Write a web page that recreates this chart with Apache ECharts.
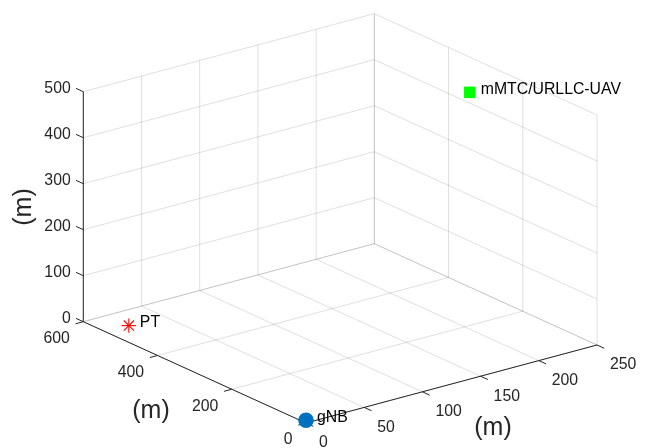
<!DOCTYPE html>
<html>
<head>
<meta charset="utf-8">
<script src="https://cdn.jsdelivr.net/npm/echarts@6/dist/echarts.min.js"></script>
<style>
  html, body { margin: 0; padding: 0; background: #ffffff; }
  #chart { width: 651px; height: 448px; }
</style>
</head>
<body>
<div id="chart"></div>
<script>
// Axis ticks (metres)
const xTicks = [0, 50, 100, 150, 200, 250];
const yTicks = [0, 200, 400, 600];
const zTicks = [0, 100, 200, 300, 400, 500];
const axisTitles = ['(m)', '(m)', '(m)'];

// Node positions (metres)
const siteNames = ['gNB', 'PT', 'mMTC/URLLC-UAV'];
const siteX = [0, 20, 230];
const siteY = [0, 540, 280];
const siteZ = [6, 0, 460];

// Axis limits
const X_MAX = 250, Y_MAX = 600, Z_MAX = 500;

// Orthographic 3-D view: screen point of the origin and screen vector of each full axis
const ORIGIN = [306, 423];
const EX = [291, -78];
const EY = [-222.7, -101.3];
const EZ = [0, -230];

const FONT = '"Liberation Sans", Arial, Helvetica, sans-serif';
const INK = '#262626';
const GRID = 'rgba(38,38,38,0.15)';

function project(x, y, z) {
  const a = x / X_MAX, b = y / Y_MAX, c = z / Z_MAX;
  return [
    ORIGIN[0] + a * EX[0] + b * EY[0] + c * EZ[0],
    ORIGIN[1] + a * EX[1] + b * EY[1] + c * EZ[1]
  ];
}
function unit(v) {
  const l = Math.hypot(v[0], v[1]);
  return [v[0] / l, v[1] / l];
}

// Grid lines on the floor (z = 0) and the two back walls (y = Y_MAX, x = X_MAX)
const gridSegments = [];
xTicks.forEach(x => {
  gridSegments.push([x, 0, 0, x, Y_MAX, 0]);
  gridSegments.push([x, Y_MAX, 0, x, Y_MAX, Z_MAX]);
});
yTicks.forEach(y => {
  gridSegments.push([0, y, 0, X_MAX, y, 0]);
  gridSegments.push([X_MAX, y, 0, X_MAX, y, Z_MAX]);
});
zTicks.forEach(z => {
  gridSegments.push([0, Y_MAX, z, X_MAX, Y_MAX, z]);
  gridSegments.push([X_MAX, 0, z, X_MAX, Y_MAX, z]);
});

// Axis lines
const axisSegments = [
  [0, 0, 0, X_MAX, 0, 0],
  [0, 0, 0, 0, Y_MAX, 0],
  [0, Y_MAX, 0, 0, Y_MAX, Z_MAX]
];

// Ticks: [axis index, value]
const tickItems = []
  .concat(xTicks.map(v => [0, v]))
  .concat(yTicks.map(v => [1, v]))
  .concat(zTicks.map(v => [2, v]));

const TICK_LEN = 8;
const tickDir = [
  unit([-EY[0], -EY[1]]),   // x ticks point away from the y direction
  unit([-EX[0], -EX[1]]),   // y ticks point away from the x direction
  unit([EY[0], EY[1]])      // z ticks point along +y
];
const labelOffset = [[13, 20], [-13.5, 17], [-12.6, -3]];
const labelAlign = ['left', 'right', 'right'];

function tickBase(axis, v) {
  if (axis === 0) return project(v, 0, 0);
  if (axis === 1) return project(0, v, 0);
  return project(0, Y_MAX, v);
}

function segmentRenderer(stroke, width) {
  return function (params, api) {
    const p1 = project(api.value(0), api.value(1), api.value(2));
    const p2 = project(api.value(3), api.value(4), api.value(5));
    return {
      type: 'line',
      shape: { x1: p1[0], y1: p1[1], x2: p2[0], y2: p2[1] },
      style: { stroke: stroke, lineWidth: width }
    };
  };
}

// Axis titles: [axis index] with screen placement of each
const titleItems = axisTitles.map((t, i) => [i]);
const titlePlace = [
  { pos: [493, 428], rot: 0 },
  { pos: [151, 411], rot: 0 },
  { pos: [24, 207], rot: Math.PI / 2 }
];

const siteData = siteNames.map((n, i) => [siteX[i], siteY[i], siteZ[i], i]);

function siteMarker(kind, p) {
  if (kind === 0) {
    return { type: 'circle', shape: { cx: p[0], cy: p[1], r: 7.8 }, style: { fill: '#0072BD' } };
  }
  if (kind === 1) {
    const h = 7.2, d = h * 0.7071;
    const arms = [[h, 0], [0, h], [d, d], [d, -d]].map(a => ({
      type: 'line',
      shape: { x1: p[0] - a[0], y1: p[1] - a[1], x2: p[0] + a[0], y2: p[1] + a[1] },
      style: { stroke: '#FF0000', lineWidth: 1.1 }
    }));
    return { type: 'group', children: arms };
  }
  const s = 11.5;
  return { type: 'rect', shape: { x: p[0] - s / 2, y: p[1] - s / 2, width: s, height: s }, style: { fill: '#00FF00' } };
}

const chart = echarts.init(document.getElementById('chart'), null, { renderer: 'canvas' });
chart.setOption({
  animation: false,
  backgroundColor: '#ffffff',
  series: [
    {
      type: 'custom',
      coordinateSystem: 'none',
      silent: true,
      data: gridSegments,
      renderItem: segmentRenderer(GRID, 1)
    },
    {
      type: 'custom',
      coordinateSystem: 'none',
      silent: true,
      data: axisSegments,
      renderItem: segmentRenderer(INK, 1)
    },
    {
      type: 'custom',
      coordinateSystem: 'none',
      silent: true,
      data: tickItems,
      renderItem: function (params, api) {
        const axis = api.value(0), v = api.value(1);
        const b = tickBase(axis, v);
        const d = tickDir[axis];
        const off = labelOffset[axis];
        return {
          type: 'group',
          children: [
            {
              type: 'line',
              shape: { x1: b[0], y1: b[1], x2: b[0] + d[0] * TICK_LEN, y2: b[1] + d[1] * TICK_LEN },
              style: { stroke: INK, lineWidth: 1 }
            },
            {
              type: 'text',
              x: b[0] + off[0],
              y: b[1] + off[1],
              style: {
                text: String(v),
                fill: INK,
                font: '15.8px ' + FONT,
                align: labelAlign[axis],
                verticalAlign: 'middle'
              }
            }
          ]
        };
      }
    },
    {
      type: 'custom',
      coordinateSystem: 'none',
      silent: true,
      data: titleItems,
      renderItem: function (params, api) {
        const i = api.value(0);
        const pl = titlePlace[i];
        return {
          type: 'text',
          x: pl.pos[0],
          y: pl.pos[1],
          rotation: pl.rot,
          style: {
            text: axisTitles[i],
            fill: INK,
            font: '25px ' + FONT,
            align: 'center',
            verticalAlign: 'middle'
          }
        };
      }
    },
    {
      type: 'custom',
      coordinateSystem: 'none',
      silent: true,
      data: siteData,
      renderItem: function (params, api) {
        const p = project(api.value(0), api.value(1), api.value(2));
        const k = api.value(3);
        return {
          type: 'group',
          children: [
            siteMarker(k, p),
            {
              type: 'text',
              x: p[0] + 11,
              y: p[1] - 3,
              style: {
                text: siteNames[k],
                fill: '#000000',
                font: '15.8px ' + FONT,
                align: 'left',
                verticalAlign: 'middle'
              }
            }
          ]
        };
      }
    }
  ]
});
</script>
</body>
</html>
